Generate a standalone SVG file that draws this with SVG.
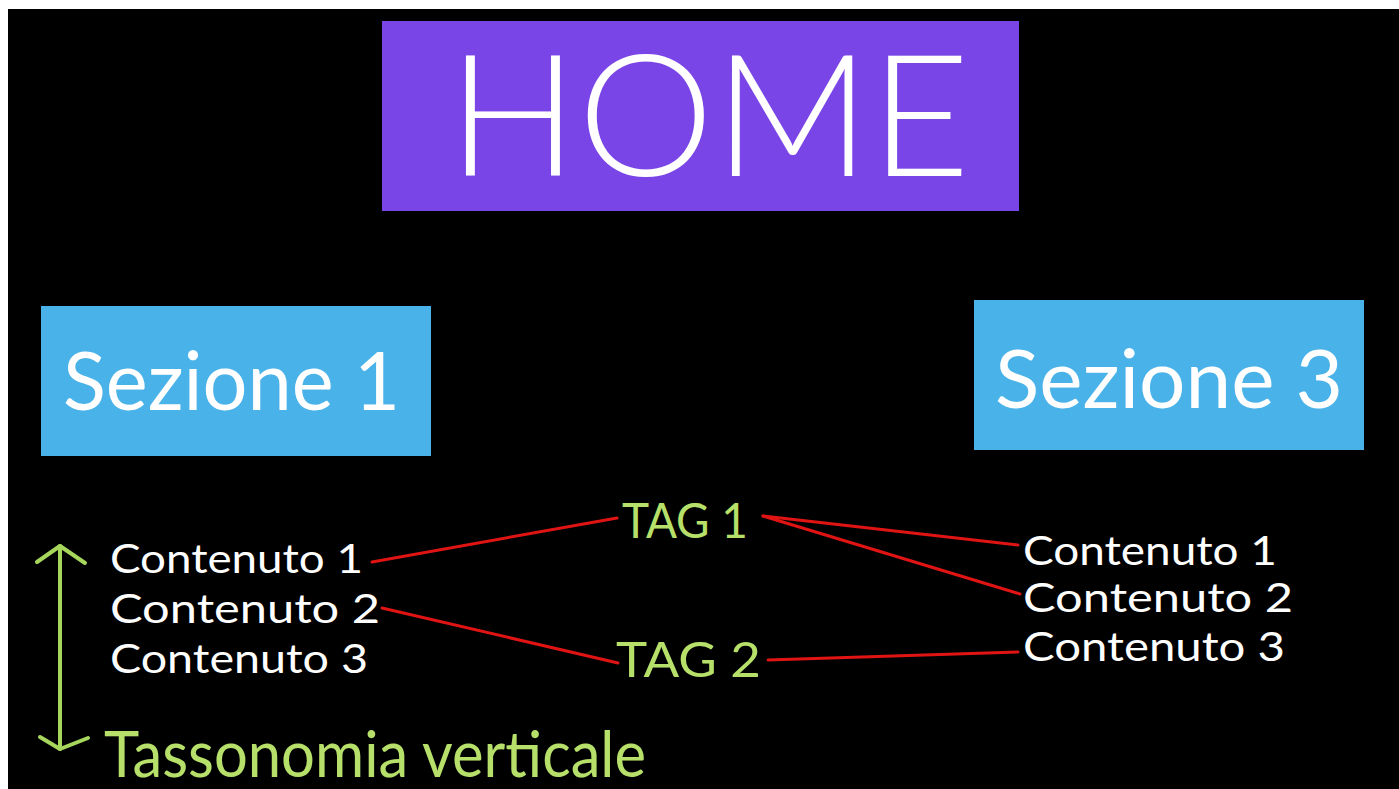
<svg xmlns="http://www.w3.org/2000/svg" width="1399" height="789" viewBox="0 0 1399 789">
  <style>
    .lbl { font-family: "Lato", "Open Sans", "DejaVu Sans", sans-serif; }
    .home-t { font-size: 170px; font-weight: 300; fill: #ffffff; }
    .sez-t { font-size: 82px; fill: #ffffff; }
    .cont-t { font-size: 41px; fill: #ffffff; }
    .tag-t { font-size: 48px; fill: #b6e06a; }
    .tax-t { font-size: 64px; fill: #b6e06a; }
    .link { stroke: #e11414; stroke-width: 3; fill: none; stroke-linecap: round; }
    .axis { stroke: #a6d65c; stroke-width: 4; fill: none; stroke-linecap: round; stroke-linejoin: round; }
  </style>

  <!-- page background with light margin strips -->
  <rect x="0" y="0" width="1399" height="789" fill="#ffffff"/>
  <rect x="8" y="9" width="1391" height="780" fill="#000000"/>

  <g id="home">
    <rect x="382" y="21" width="637" height="190" fill="#7a45e6"/>
    <text class="lbl home-t" x="448" y="176" textLength="522" lengthAdjust="spacingAndGlyphs">HOME</text>
  </g>

  <g id="sezione-1">
    <rect x="41" y="306" width="390" height="150" fill="#49b2e9"/>
    <text class="lbl sez-t" x="63" y="410" textLength="337" lengthAdjust="spacingAndGlyphs">Sezione 1</text>
  </g>

  <g id="sezione-3">
    <rect x="974" y="300" width="390" height="150" fill="#49b2e9"/>
    <text class="lbl sez-t" x="995" y="408" textLength="348" lengthAdjust="spacingAndGlyphs">Sezione 3</text>
  </g>

  <g id="contenuti-sx">
    <text class="lbl cont-t" x="110" y="573" textLength="253" lengthAdjust="spacingAndGlyphs">Contenuto 1</text>
    <text class="lbl cont-t" x="110" y="623" textLength="270" lengthAdjust="spacingAndGlyphs">Contenuto 2</text>
    <text class="lbl cont-t" x="110" y="673" textLength="258" lengthAdjust="spacingAndGlyphs">Contenuto 3</text>
  </g>

  <g id="contenuti-dx">
    <text class="lbl cont-t" x="1023" y="565" textLength="254" lengthAdjust="spacingAndGlyphs">Contenuto 1</text>
    <text class="lbl cont-t" x="1023" y="612" textLength="270" lengthAdjust="spacingAndGlyphs">Contenuto 2</text>
    <text class="lbl cont-t" x="1023" y="661" textLength="262" lengthAdjust="spacingAndGlyphs">Contenuto 3</text>
  </g>

  <g id="tag-1">
    <text class="lbl tag-t" x="622" y="538" textLength="126" lengthAdjust="spacingAndGlyphs">TAG 1</text>
  </g>

  <g id="tag-2">
    <text class="lbl tag-t" x="616" y="677" textLength="145" lengthAdjust="spacingAndGlyphs">TAG 2</text>
  </g>

  <g id="connectors">
    <line class="link" x1="372" y1="562" x2="617" y2="518"/>
    <line class="link" x1="763" y1="516" x2="1018" y2="545"/>
    <line class="link" x1="763" y1="516" x2="1020" y2="594"/>
    <line class="link" x1="382" y1="608" x2="618" y2="663"/>
    <line class="link" x1="768" y1="660" x2="1018" y2="652"/>
  </g>

  <g id="tassonomia">
    <line class="axis" x1="60" y1="546" x2="60" y2="749"/>
    <polyline class="axis" points="37,562 60,546 85,563"/>
    <polyline class="axis" points="40,737 60,749 88,738"/>
    <text class="lbl tax-t" x="104" y="777" textLength="542" lengthAdjust="spacingAndGlyphs">Tassonomia verticale</text>
  </g>
</svg>
